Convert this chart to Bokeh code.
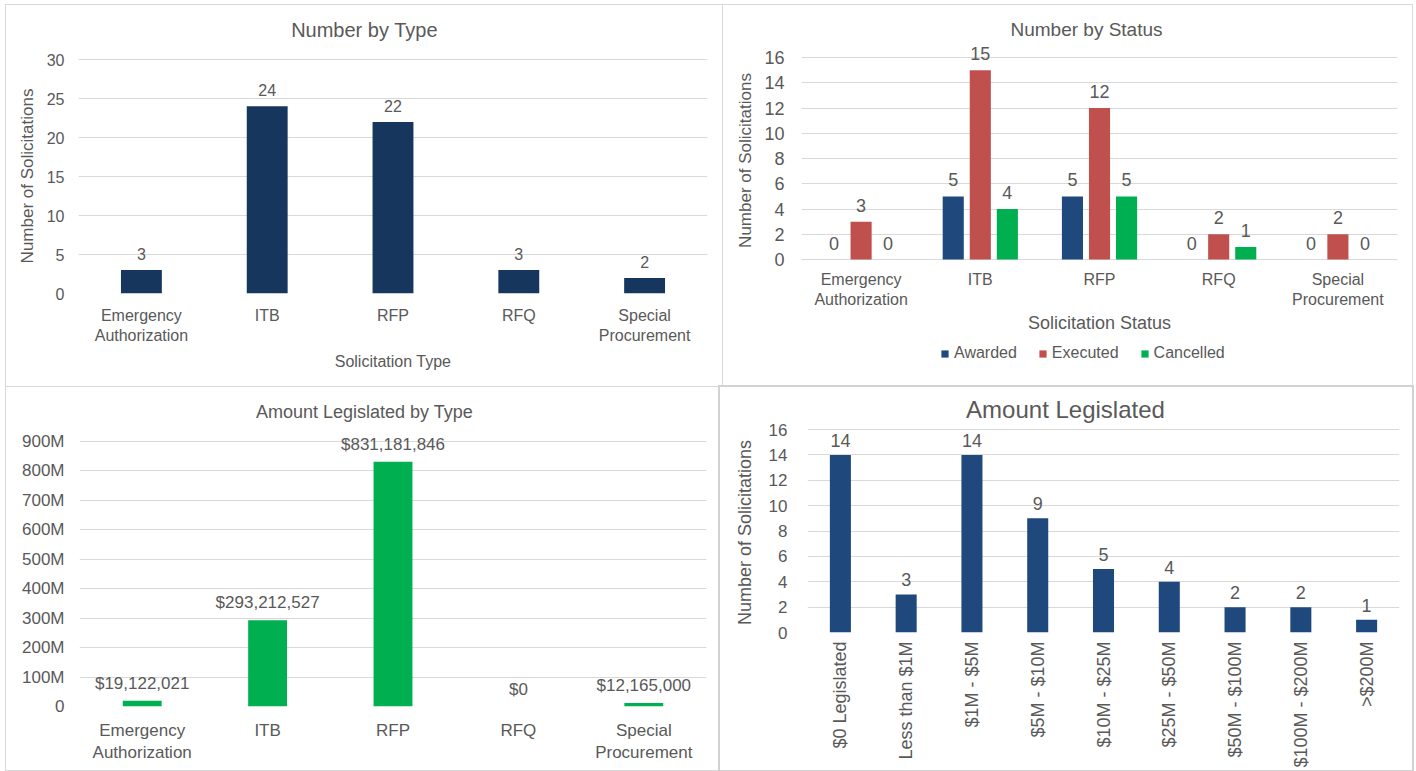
import math

from bokeh.plotting import figure
from bokeh.models import (ColumnDataSource, FixedTicker, Label, LabelSet, Legend,
                          LegendItem, Range1d, CustomJSTickFormatter, Title)
from bokeh.transform import dodge
from bokeh.core.properties import value
from bokeh.embed import file_html
from bokeh.resources import INLINE

FONT = "Liberation Sans"
TEXT = "#595959"
GRID = "#d9d9d9"
BORDER = "#d9d9d9"

# ---- data -------------------------------------------------------------
sol_types = ["Emergency\nAuthorization", "ITB", "RFP", "RFQ", "Special\nProcurement"]

type_counts = [3, 24, 22, 3, 2]
type_ticks = [0, 5, 10, 15, 20, 25, 30]

status_awarded = [0, 5, 5, 0, 0]
status_executed = [3, 15, 12, 2, 2]
status_cancelled = [0, 4, 5, 1, 0]
status_ticks = [0, 2, 4, 6, 8, 10, 12, 14, 16]

amount_by_type = [19122021, 293212527, 831181846, 0, 12165000]
amount_ticks = [0, 100000000, 200000000, 300000000, 400000000, 500000000,
                600000000, 700000000, 800000000, 900000000]

buckets = ["$0 Legislated", "Less than $1M", "$1M - $5M", "$5M - $10M", "$10M - $25M",
           "$25M - $50M", "$50M - $100M", "$100M - $200M", ">$200M"]
bucket_counts = [14, 3, 14, 9, 5, 4, 2, 2, 1]
bucket_ticks = [0, 2, 4, 6, 8, 10, 12, 14, 16]

Y_TITLE = "Number of Solicitations"
Y_TITLE_EM = 10.28  # advance width of Y_TITLE in ems (Arial metrics)


def make_fig(w, h, factors, ticks, zero_row, top_row, left, right, bottom, pos, outline):
    """The plot frame starts at the canvas top so that titles and value labels
    fall inside it.  zero_row / top_row are the canvas rows of 0 and of the
    highest tick."""
    frame_bottom = h - bottom
    px_per_unit = (zero_row - top_row) / ticks[-1]
    y_end = zero_row / px_per_unit
    y_start = -(frame_bottom - zero_row) / px_per_unit
    p = figure(width=w, height=h, x_range=factors, y_range=Range1d(y_start, y_end),
               min_border_left=left, min_border_right=right,
               min_border_top=0, min_border_bottom=bottom,
               output_backend="svg", toolbar_location=None, tools="",
               styles={"position": "absolute", "left": f"{pos[0]}px", "top": f"{pos[1]}px",
                       "outline": outline})
    p.outline_line_color = None
    p.background_fill_color = "white"
    p.border_fill_color = "white"
    p.xgrid.grid_line_color = None
    p.ygrid.grid_line_color = GRID
    p.ygrid.grid_line_width = 1
    p.yaxis.ticker = FixedTicker(ticks=ticks)
    for ax in (p.xaxis[0], p.yaxis[0]):
        ax.axis_line_color = None
        ax.major_tick_line_color = None
        ax.minor_tick_line_color = None
        ax.major_tick_out = 0
        ax.major_tick_in = 0
        ax.minor_tick_out = 0
        ax.minor_tick_in = 0
        ax.major_label_text_font = FONT
        ax.major_label_text_color = TEXT
        ax.axis_label_text_font = FONT
        ax.axis_label_text_color = TEXT
        ax.axis_label_text_font_style = "normal"
    p._frame_geom = (left, frame_bottom)
    return p


def add_title(p, text, cx, cy, size):
    left, frame_bottom = p._frame_geom
    p.add_layout(Label(x=cx - left, y=frame_bottom - cy, x_units="screen", y_units="screen",
                       text=text, text_font=FONT, text_font_size=size, text_color=TEXT,
                       text_align="center", text_baseline="middle"))


def add_y_title(p, size_px, center_row, standoff):
    """Vertical axis title centred on center_row (canvas row)."""
    _, frame_bottom = p._frame_geom
    start = center_row + Y_TITLE_EM * size_px / 2
    p.add_layout(Title(text=Y_TITLE, align="left", offset=frame_bottom - start,
                       standoff=standoff, text_font=FONT, text_font_size=f"{size_px}px",
                       text_font_style="normal", text_color=TEXT), "left")


def add_values(p, src, ycol, tcol, size, x_offset=0, y_offset=9):
    p.add_layout(LabelSet(x="x", y=ycol, text=tcol, source=src, x_offset=x_offset,
                          y_offset=y_offset, text_align="center", text_baseline="bottom",
                          text_font=value(FONT), text_font_size=value(size),
                          text_color=TEXT))


# ---- Number by Type ---------------------------------------------------
p1 = make_fig(716, 381, sol_types, type_ticks, 288, 54, 72, 15, 93, (6, 5),
              f"1px solid {BORDER}")
src1 = ColumnDataSource(dict(x=sol_types, y=type_counts, t=[str(v) for v in type_counts]))
p1.vbar(x="x", top="y", width=0.325, source=src1, fill_color="#17365D", line_color=None)
add_values(p1, src1, "y", "t", "16px", y_offset=10)
p1.xaxis.major_label_text_font_size = "16px"
p1.xaxis.major_label_standoff = 13
p1.xaxis.axis_label = "Solicitation Type"
p1.xaxis.axis_label_text_font_size = "16px"
p1.xaxis.axis_label_standoff = 6
p1.yaxis.major_label_text_font_size = "16px"
p1.yaxis.major_label_standoff = 14
add_y_title(p1, 17, 170.5, 14)
add_title(p1, "Number by Type", 358, 24, "20px")

# ---- Number by Status -------------------------------------------------
# the category axis floats on the zero line so the legend can sit in the frame
p2 = make_fig(689, 381, sol_types, status_ticks, 254, 52, 78, 15, 0, (723, 5),
              f"1px solid {BORDER}")
p2.xaxis.fixed_location = 0
src2 = ColumnDataSource(dict(x=sol_types, a=status_awarded, e=status_executed,
                             c=status_cancelled,
                             at=[str(v) for v in status_awarded],
                             et=[str(v) for v in status_executed],
                             ct=[str(v) for v in status_cancelled]))
series = [("a", "at", -0.227, -27, "#1F497D", "Awarded"),
          ("e", "et", 0.0, 0, "#C0504D", "Executed"),
          ("c", "ct", 0.227, 27, "#00B050", "Cancelled")]
items = []
for col, tcol, off, px_off, color, name in series:
    r = p2.vbar(x=dodge("x", off, range=p2.x_range), top=col, width=0.177, source=src2,
                fill_color=color, line_color=None)
    add_values(p2, src2, col, tcol, "18px", x_offset=px_off, y_offset=10)
    items.append(LegendItem(label=name, renderers=[r]))
p2.xaxis.major_label_text_font_size = "16px"
p2.xaxis.major_label_standoff = 11
p2.xaxis.axis_label = "Solicitation Status"
p2.xaxis.axis_label_text_font_size = "18px"
p2.xaxis.axis_label_standoff = 2
p2.yaxis.major_label_text_font_size = "18px"
p2.yaxis.major_label_standoff = 17
add_y_title(p2, 17, 155, 14)
legend = Legend(items=items, orientation="horizontal", location=(139, 24),
                padding=0, margin=0, spacing=21, label_standoff=5,
                glyph_width=9, glyph_height=9,
                label_text_font=FONT, label_text_font_size="16px", label_text_color=TEXT,
                border_line_color=None, background_fill_alpha=0)
p2.add_layout(legend, "center")
add_title(p2, "Number by Status", 363, 24, "19px")

# ---- Amount Legislated by Type ----------------------------------------
p3 = make_fig(713, 383, sol_types, amount_ticks, 319, 54, 73, 13, 64, (6, 387),
              f"1px solid {BORDER}")
src3 = ColumnDataSource(dict(x=sol_types, y=amount_by_type,
                             t=["${:,}".format(v) for v in amount_by_type]))
p3.vbar(x="x", top="y", width=0.31, source=src3, fill_color="#00B050", line_color=None)
add_values(p3, src3, "y", "t", "17px", y_offset=8)
p3.yaxis.formatter = CustomJSTickFormatter(code="return tick == 0 ? '0' : (tick / 1e6) + 'M';")
p3.xaxis.major_label_text_font_size = "17px"
p3.xaxis.major_label_standoff = 14
p3.yaxis.major_label_text_font_size = "17px"
p3.yaxis.major_label_standoff = 15
add_title(p3, "Amount Legislated by Type", 358, 24, "18px")

# ---- Amount Legislated -----------------------------------------------
p4 = make_fig(692, 383, buckets, bucket_ticks, 245, 42, 87, 13, 138, (720, 387),
              "2px solid #d2d2d2")
src4 = ColumnDataSource(dict(x=buckets, y=bucket_counts, t=[str(v) for v in bucket_counts]))
p4.vbar(x="x", top="y", width=0.32, source=src4, fill_color="#1F497D", line_color=None)
add_values(p4, src4, "y", "t", "18px", y_offset=8)
p4.xaxis.major_label_orientation = math.pi / 2
p4.xaxis.major_label_text_font_size = "18px"
p4.xaxis.major_label_standoff = 9
p4.yaxis.major_label_text_font_size = "17px"
p4.yaxis.major_label_standoff = 20
add_y_title(p4, 18, 145, 22)
add_title(p4, "Amount Legislated", 345, 22, "24px")

open("out.html", "w").write(file_html([p1, p2, p3, p4], INLINE))
